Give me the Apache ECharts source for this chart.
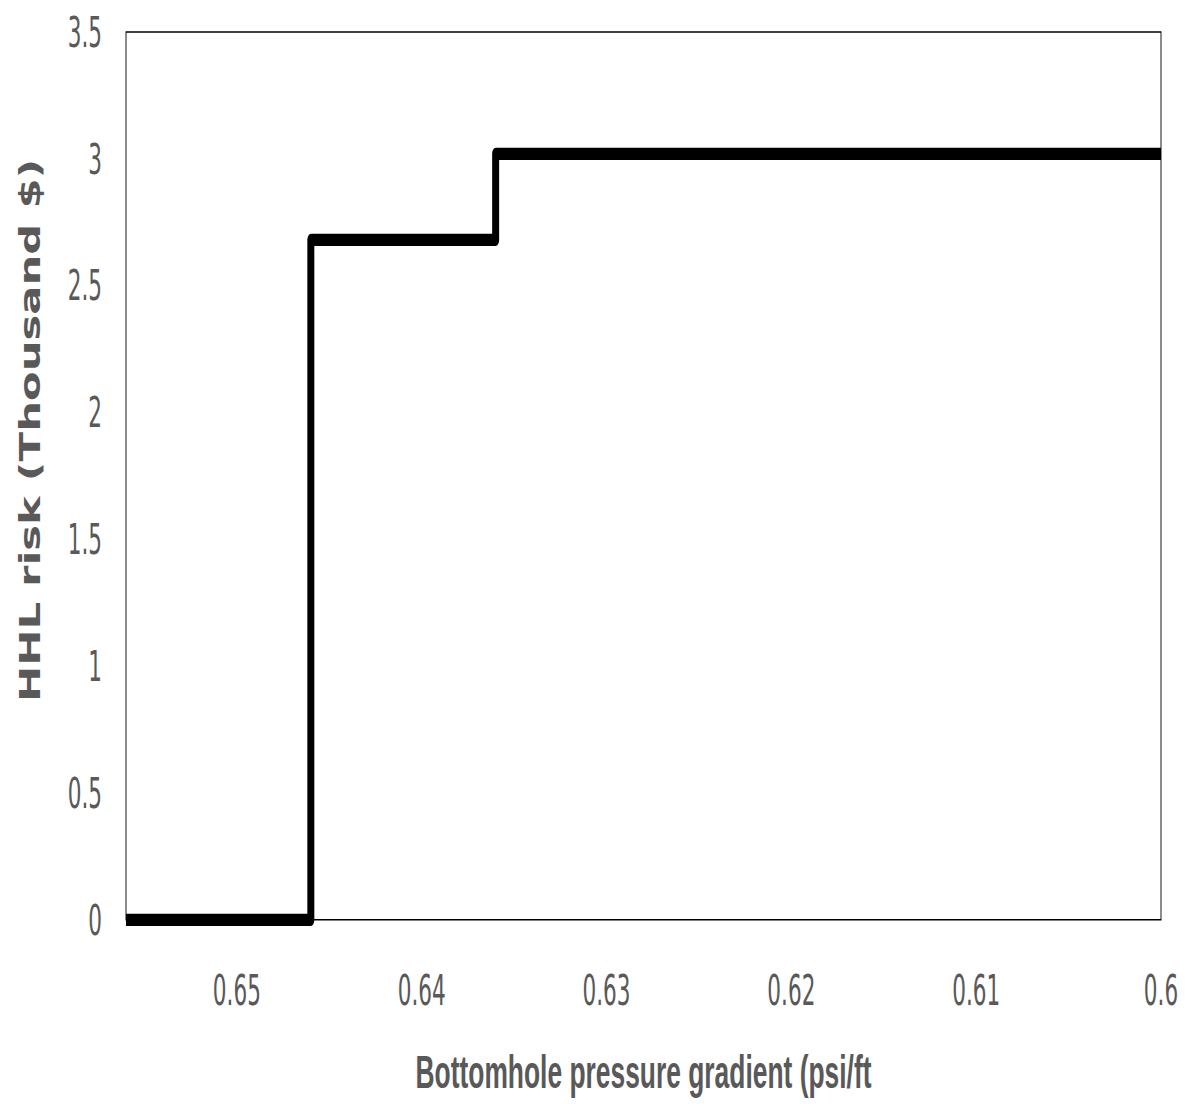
<!DOCTYPE html>
<html>
<head>
<meta charset="utf-8">
<script src="https://cdn.jsdelivr.net/npm/echarts@6/dist/echarts.min.js"></script>
<style>
  html, body { margin: 0; padding: 0; background: #fff; overflow: hidden; }
  #wrap { width: 1188px; height: 1104px; overflow: hidden; }
  #chart { width: 1188px; height: 630.857px; transform: scaleY(1.75); transform-origin: 0 0; }
</style>
</head>
<body>
<div id="wrap"><div id="chart"></div></div>
<script>
// Data (step line, reversed x axis)
const gradient = [0.656, 0.646, 0.636, 0.600];   // Bottomhole pressure gradient (psi/ft)
const hhlRisk  = [0.00, 2.68, 3.02, 3.02];        // HHL risk (Thousand $)
const xTickValues = [0.65, 0.64, 0.63, 0.62, 0.61, 0.60];
const yTickLabels = ['0', '0.5', '1', '1.5', '2', '2.5', '3', '3.5'];
const xTitle = 'Bottomhole pressure gradient (psi/ft';
const yTitle = 'HHL risk (Thousand $)';

const S = 1.75; // vertical stretch of the whole figure
const narrow = '"DejaVu Sans Condensed", "Liberation Sans Narrow", sans-serif';

const chart = echarts.init(document.getElementById('chart'), null, { renderer: 'svg' });
chart.setOption({
  animation: false,
  backgroundColor: '#fff',
  grid: {
    show: true,
    left: 126, right: 27, top: 32 / S, bottom: 1104 / S - 920 / S,
    borderColor: '#000', borderWidth: 0.9,
    backgroundColor: 'transparent',
    containLabel: false
  },
  xAxis: {
    type: 'value',
    inverse: true,
    min: 0.60, max: 0.656, interval: 0.01,
    axisLine: { show: false },
    axisTick: { show: false },
    splitLine: { show: false },
    axisLabel: {
      margin: 28,
      color: '#595959',
      fontFamily: narrow,
      fontSize: 24,
      lineHeight: 24,
      showMaxLabel: false,
      formatter: function (v) {
        for (const t of xTickValues) { if (Math.abs(v - t) < 1e-6) return String(t); }
        return '';
      }
    },
    name: xTitle,
    nameLocation: 'middle',
    nameGap: 74,
    nameTextStyle: {
      color: '#595959',
      fontFamily: '"Liberation Sans", Arial, sans-serif',
      fontWeight: 'bold',
      fontSize: 26.4,
      lineHeight: 26.4
    }
  },
  yAxis: {
    type: 'value',
    min: 0, max: 3.5, interval: 0.5,
    axisLine: { show: false },
    axisTick: { show: false },
    splitLine: { show: false },
    axisLabel: {
      margin: 24,
      color: '#595959',
      fontFamily: narrow,
      fontSize: 24,
      formatter: function (v) {
        const i = Math.round(v / 0.5);
        return yTickLabels[i] !== undefined ? yTickLabels[i] : '';
      }
    },
    name: yTitle,
    nameLocation: 'middle',
    nameGap: 82,
    nameRotate: 90,
    nameTextStyle: {
      color: '#595959',
      fontFamily: '"DejaVu Sans Condensed", "DejaVu Sans", sans-serif',
      fontWeight: 'bold',
      fontSize: 27.5,
      lineHeight: 27.5,
      padding: [0, 0, 0, 52]
    }
  },
  series: [{
    type: 'line',
    step: 'end',
    symbol: 'none',
    clip: true,
    data: gradient.map((x, i) => [x, hhlRisk[i]]),
    lineStyle: { color: '#000', width: 7, join: 'round', cap: 'butt' }
  }]
});
</script>
</body>
</html>
